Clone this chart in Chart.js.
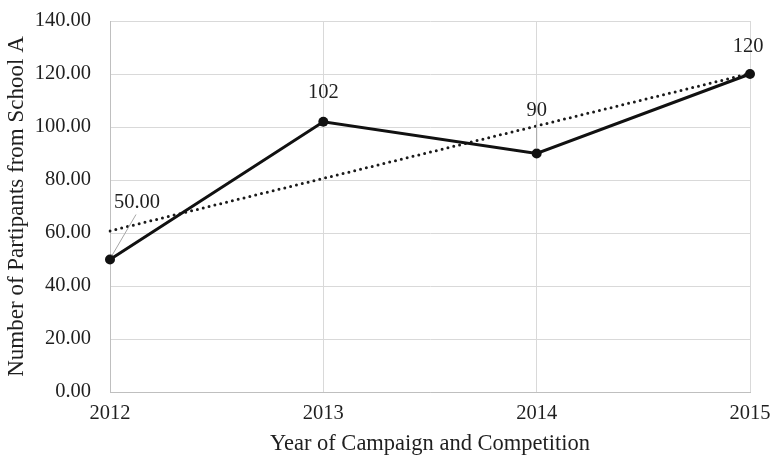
<!DOCTYPE html>
<html>
<head>
<meta charset="utf-8">
<script src="https://cdn.jsdelivr.net/npm/chart.js@4/dist/chart.umd.min.js"></script>
<style>
  html, body { margin: 0; padding: 0; background: #fff; }
  #grafico { display: block; }
</style>
</head>
<body>
<canvas id="grafico" width="771" height="459"></canvas>
<script>
(function () {
    'use strict';

    // Datos: participantes de la escuela A por año
    var anios = ['2012', '2013', '2014', '2015'];
    var participantes = [50, 102, 90, 120];
    var tendencia = [60.8, 80.6, 100.4, 120.2];
    var decimalesEtiqueta = [2, 0, 0, 0];

    var fuente = 'Liberation Serif, Times New Roman, serif';
    var colorTexto = '#1f1f1f';

    // Desplazamiento de cada etiqueta respecto a su punto (+ línea guía opcional)
    var posEtiquetas = [
        { dx: 27, dy: -57, guia: [[2, -4], [26, -45]] },
        { dx: 0, dy: -29 },
        { dx: 0, dy: -43, guia: [[0, -33], [0, -5]] },
        { dx: -2, dy: -27 }
    ];

    var etiquetasDatos = {
        id: 'etiquetasDatos',
        afterDatasetsDraw: function (chart) {
            var ctx = chart.ctx;
            var meta = chart.getDatasetMeta(0);
            ctx.save();
            ctx.font = '20.5px ' + fuente;
            ctx.fillStyle = colorTexto;
            ctx.textAlign = 'center';
            ctx.textBaseline = 'middle';
            meta.data.forEach(function (punto, i) {
                var p = posEtiquetas[i];
                if (p.guia) {
                    ctx.strokeStyle = '#a6a6a6';
                    ctx.lineWidth = 1;
                    ctx.beginPath();
                    ctx.moveTo(punto.x + p.guia[0][0], punto.y + p.guia[0][1]);
                    ctx.lineTo(punto.x + p.guia[1][0], punto.y + p.guia[1][1]);
                    ctx.stroke();
                }
                var texto = participantes[i].toFixed(decimalesEtiqueta[i]);
                ctx.fillText(texto, punto.x + p.dx, punto.y + p.dy);
            });
            ctx.restore();
        }
    };

    new Chart(document.getElementById('grafico').getContext('2d'), {
        type: 'line',
        data: {
            labels: anios,
            datasets: [{
                label: 'Participantes',
                data: participantes,
                borderColor: '#111',
                backgroundColor: '#111',
                borderWidth: 3,
                pointRadius: 5,
                pointBackgroundColor: '#111',
                pointBorderWidth: 0,
                tension: 0,
                order: 1
            }, {
                label: 'Tendencia',
                data: tendencia,
                borderColor: '#1a1a1a',
                borderWidth: 3,
                borderDash: [0, 6],
                borderCapStyle: 'round',
                pointRadius: 0,
                tension: 0,
                order: 2
            }]
        },
        options: {
            responsive: false,
            animation: false,
            layout: { autoPadding: false, padding: { top: 21, right: 21, left: 0, bottom: 0 } },
            plugins: {
                legend: { display: false },
                tooltip: { enabled: false }
            },
            scales: {
                x: {
                    offset: false,
                    grid: { color: '#d9d9d9', drawTicks: false },
                    border: { color: '#bfbfbf' },
                    ticks: {
                        padding: 9,
                        maxRotation: 0,
                        color: colorTexto,
                        font: { family: fuente, size: 20.5 }
                    },
                    title: {
                        display: true,
                        text: 'Year of Campaign and Competition',
                        color: colorTexto,
                        font: { family: fuente, size: 22.5 },
                        padding: { top: 0, bottom: 1 }
                    },
                    afterFit: function (escala) {
                        escala.height = 67;
                        escala.paddingLeft = 0;
                        escala.paddingRight = 0;
                    }
                },
                y: {
                    min: 0,
                    max: 140,
                    grid: { color: '#d9d9d9', drawTicks: false },
                    border: { color: '#bfbfbf' },
                    ticks: {
                        stepSize: 20,
                        padding: 19,
                        color: colorTexto,
                        font: { family: fuente, size: 20.5 },
                        callback: function (v) { return v.toFixed(2); }
                    },
                    title: {
                        display: true,
                        text: 'Number of Partipants from School A',
                        color: colorTexto,
                        font: { family: fuente, size: 23 },
                        padding: { top: 3, bottom: 0 }
                    },
                    afterFit: function (escala) {
                        escala.width = 110;
                        escala.paddingTop = 0;
                        escala.paddingBottom = 0;
                    }
                }
            }
        },
        plugins: [etiquetasDatos]
    });
})();
</script>
</body>
</html>
